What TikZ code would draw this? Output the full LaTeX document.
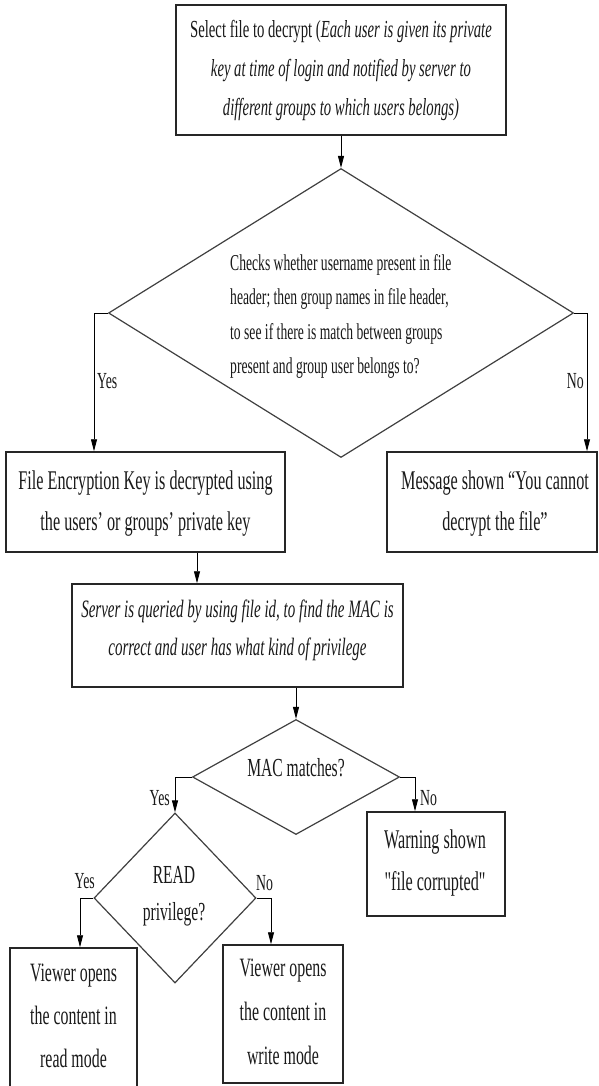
\documentclass[tikz,border=0pt]{standalone}
\usepackage{fontspec}
\setmainfont{Liberation Serif}[FakeStretch=0.6]
\usetikzlibrary{arrows.meta,shapes.geometric}
\newcommand{\sq}{{\addfontfeatures{Ligatures=TeXOff}"}}
\tikzset{
  box/.style={draw=black!85, line width=1.5pt, inner sep=0pt, rectangle},
  dia/.style={draw=black!75, line width=1.2pt, diamond, inner sep=0pt},
  txt/.style={inner sep=0pt, align=center, text=black!90},
  arr/.style={draw=black, line width=0.9pt, -{Triangle[length=12pt,width=6pt]}},
  lab/.style={inner sep=0pt, text=black!90, font=\fontsize{23}{26}\selectfont}
}
\begin{document}
\begin{tikzpicture}[x=1pt,y=-1pt]
\useasboundingbox (0,0) rectangle (599,1086);
\fill[white] (0,0) rectangle (599,1086);
% shapes
\node[box, minimum width=330pt, minimum height=130pt] (top) at (341,70) {};
\node[dia, minimum width=465pt, minimum height=289pt] (d1) at (341,313) {};
\node[box, minimum width=279pt, minimum height=100pt] (L) at (145.5,502) {};
\node[box, minimum width=210pt, minimum height=100pt] (R) at (492,502) {};
\node[box, minimum width=331pt, minimum height=103pt] (S) at (237.5,635.5) {};
\node[dia, minimum width=207pt, minimum height=115pt] (M) at (296,777) {};
\node[dia, minimum width=162pt, minimum height=170pt] (D) at (175,898) {};
\node[box, minimum width=138pt, minimum height=104pt] (W) at (436,864) {};
\node[box, minimum width=127pt, minimum height=147pt] (V1) at (73.5,1021.5) {};
\node[box, minimum width=120pt, minimum height=138pt] (V2) at (283,1014) {};
% texts
\node[txt, anchor=north, font=\fontsize{24.5}{39}\selectfont] (topT) at (341,20)
  {Select file to decrypt (\textit{Each user is given its private}\\
   \textit{key at time of login and notified by server to}\\
   \textit{different groups to which users belongs)}};
\node[txt, anchor=north west, align=left, font=\fontsize{22.7}{34.5}\selectfont] (d1T) at (230,254)
  {Checks whether username present in file\\
   header; then group names in file header,\\
   to see if there is match between groups\\
   present and group user belongs to?};
\node[txt, anchor=north, font=\fontsize{27}{41}\selectfont] (LT) at (145.5,470.5)
  {File Encryption Key is decrypted using\\the users’ or groups’ private key};
\node[txt, anchor=north, font=\fontsize{27}{41}\selectfont] (RT) at (495,470.5)
  {Message shown “You cannot\\decrypt the file”};
\node[txt, anchor=north, font=\fontsize{25}{38}\selectfont\itshape] (ST) at (237.5,600)
  {Server is queried by using file id, to find the MAC is\\correct and user has what kind of privilege};
\node[txt, anchor=base, font=\fontsize{26}{30}\selectfont] (MT) at (296,776) {MAC matches?};
\node[txt, anchor=north, font=\fontsize{26}{37}\selectfont] (DT) at (174,866) {READ\\privilege?};
\node[txt, anchor=north, font=\fontsize{27}{42}\selectfont] (WT) at (435,829.5) {Warning shown\\\sq file corrupted\sq};
\node[txt, anchor=north, font=\fontsize{26.5}{43}\selectfont] (V1T) at (73.5,964) {Viewer opens\\the content in\\read mode};
\node[txt, anchor=north, font=\fontsize{26.5}{44}\selectfont] (V2T) at (283,959) {Viewer opens\\the content in\\write mode};
% helper coordinates for connector columns
\coordinate (c1) at (94,0);
\coordinate (c2) at (587,0);
\coordinate (c3) at (197,0);
\coordinate (c4) at (415,0);
\coordinate (c5) at (80,0);
\coordinate (c6) at (271,0);
% connectors
\draw[arr] (top.south) -- (d1.north);
\draw[arr] (d1.west) -| (c1 |- L.north);
\draw[arr] (d1.east) -| (c2 |- R.north);
\draw[arr] (c3 |- L.south) -- (c3 |- S.north);
\draw[arr] (M.north |- S.south) -- (M.north);
\draw[arr] (M.west) -| (D.north);
\draw[arr] (M.east) -| (c4 |- W.north);
\draw[arr] (D.west) -| (c5 |- V1.north);
\draw[arr] (D.east) -| (c6 |- V2.north);
% labels
\node[lab, anchor=base west] (y1) at (97,388) {Yes};
\node[lab, anchor=base east] (n1) at (584,388) {No};
\node[lab, anchor=base east] (y2) at (170,805) {Yes};
\node[lab, anchor=base west] (n2) at (420,805) {No};
\node[lab, anchor=base east] (y3) at (95,888) {Yes};
\node[lab, anchor=base west] (n3) at (256,890) {No};
\end{tikzpicture}
\end{document}
